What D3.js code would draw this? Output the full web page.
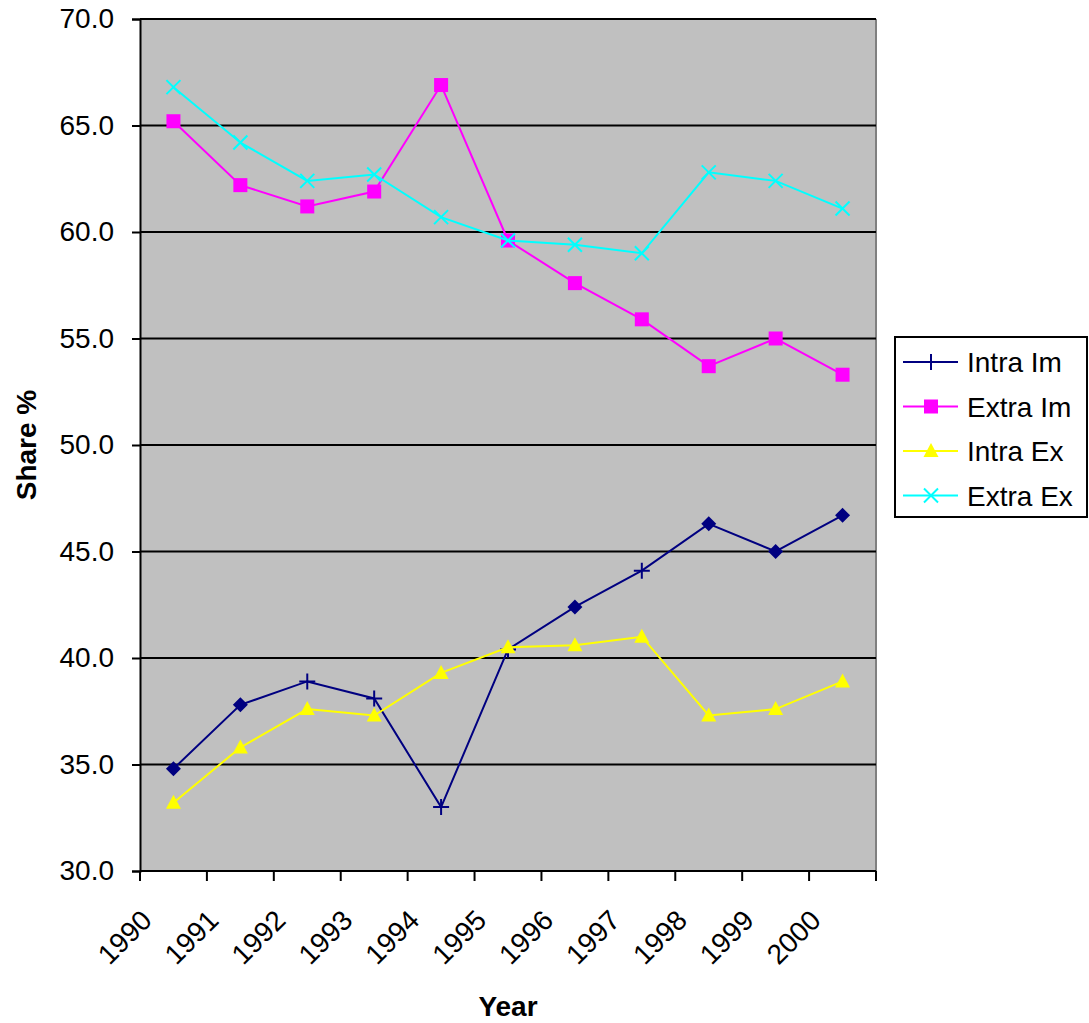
<!DOCTYPE html>
<html>
<head>
<meta charset="utf-8">
<script src="https://cdn.jsdelivr.net/npm/d3@7"></script>
<style>
  html, body { margin: 0; padding: 0; background: #fff; }
  svg { display: block; font-family: Arial, "Liberation Sans", sans-serif; }
</style>
</head>
<body>
<svg id="chart" width="1089" height="1023"></svg>
<script>
// Trade shares by year (%)
const years = ["1990","1991","1992","1993","1994","1995","1996","1997","1998","1999","2000"];
const intraIm = [34.8, 37.8, 38.9, 38.1, 33.0, 40.4, 42.4, 44.1, 46.3, 45.0, 46.7];
const extraIm = [65.2, 62.2, 61.2, 61.9, 66.9, 59.6, 57.6, 55.9, 53.7, 55.0, 53.3];
const intraEx = [33.2, 35.8, 37.6, 37.3, 39.3, 40.5, 40.6, 41.0, 37.3, 37.6, 38.9];
const extraEx = [66.8, 64.2, 62.4, 62.7, 60.7, 59.6, 59.4, 59.0, 62.8, 62.4, 61.1];
const yTicks = [30, 35, 40, 45, 50, 55, 60, 65, 70];
const seriesNames = ["Intra Im", "Extra Im", "Intra Ex", "Extra Ex"];
// marker used at each Intra Im point
const intraImMarks = ["diamond","diamond","plus","plus","plus","plus","diamond","plus","diamond","diamond","diamond"];

const svg = d3.select("#chart");
const plot = { left: 140, right: 876, top: 19, bottom: 871 };

const x = d3.scaleBand().domain(years).range([plot.left, plot.right]);
const cx = d => x(d) + x.bandwidth() / 2;
const y = d3.scaleLinear().domain([30, 70]).range([plot.bottom, plot.top]);

// plot background
svg.append("rect")
  .attr("x", plot.left).attr("y", plot.top)
  .attr("width", plot.right - plot.left).attr("height", plot.bottom - plot.top)
  .attr("fill", "#C0C0C0");
svg.append("line")
  .attr("x1", plot.right).attr("x2", plot.right)
  .attr("y1", plot.top).attr("y2", plot.bottom)
  .attr("stroke", "#808080").attr("stroke-width", 2);

// horizontal gridlines
svg.append("g").selectAll("line").data(yTicks.filter(t => t > 30)).join("line")
  .attr("x1", plot.left).attr("x2", plot.right)
  .attr("y1", d => y(d)).attr("y2", d => y(d))
  .attr("stroke", "#000").attr("stroke-width", 2);

// y axis
const yAxis = svg.append("g")
  .attr("transform", `translate(${plot.left},0)`)
  .call(d3.axisLeft(y).tickValues(yTicks).tickFormat(d3.format(".1f")).tickSize(8).tickPadding(18));
yAxis.select(".domain").attr("stroke", "#000").attr("stroke-width", 2);
yAxis.selectAll(".tick line").attr("stroke", "#000").attr("stroke-width", 2);
yAxis.selectAll(".tick text").attr("font-size", 28).attr("fill", "#000")
  .attr("font-family", "Arial, 'Liberation Sans', sans-serif");

// x axis line and ticks at category boundaries
svg.append("line")
  .attr("x1", plot.left).attr("x2", plot.right)
  .attr("y1", plot.bottom).attr("y2", plot.bottom)
  .attr("stroke", "#000").attr("stroke-width", 2);
const boundaries = years.map(d => x(d)).concat([x.range()[1]]);
svg.append("g").selectAll("line").data(boundaries).join("line")
  .attr("x1", d => d).attr("x2", d => d)
  .attr("y1", plot.bottom).attr("y2", plot.bottom + 10)
  .attr("stroke", "#000").attr("stroke-width", 2);

// rotated year labels
svg.append("g").selectAll("text").data(years).join("text")
  .attr("transform", d => `translate(${cx(d) - 20},922) rotate(-45)`)
  .attr("text-anchor", "end")
  .attr("font-size", 28)
  .attr("fill", "#000")
  .text(d => d);

// axis titles
svg.append("text")
  .attr("x", (plot.left + plot.right) / 2).attr("y", 1016)
  .attr("text-anchor", "middle").attr("font-size", 28).attr("font-weight", "bold")
  .text("Year");
svg.append("text")
  .attr("transform", `translate(36,${(plot.top + plot.bottom) / 2}) rotate(-90)`)
  .attr("text-anchor", "middle").attr("font-size", 28).attr("font-weight", "bold")
  .text("Share %");

// marker drawing
function drawMarker(g, type, px, py, color) {
  if (type === "diamond") {
    g.append("path").attr("d", `M${px},${py - 7.5}L${px + 7.5},${py}L${px},${py + 7.5}L${px - 7.5},${py}Z`)
      .attr("fill", color);
  } else if (type === "plus") {
    g.append("path").attr("d", `M${px},${py - 8}V${py + 8}M${px - 8},${py}H${px + 8}`)
      .attr("stroke", color).attr("stroke-width", 2).attr("fill", "none");
  } else if (type === "square") {
    g.append("rect").attr("x", px - 7).attr("y", py - 7).attr("width", 14).attr("height", 14)
      .attr("fill", color);
  } else if (type === "triangle") {
    g.append("path").attr("d", `M${px},${py - 8}L${px + 7.5},${py + 6}L${px - 7.5},${py + 6}Z`)
      .attr("fill", color);
  } else if (type === "x") {
    g.append("path").attr("d", `M${px - 7},${py - 7}L${px + 7},${py + 7}M${px - 7},${py + 7}L${px + 7},${py - 7}`)
      .attr("stroke", color).attr("stroke-width", 2).attr("fill", "none");
  }
}

const series = [
  { name: seriesNames[0], values: intraIm, color: "#000080", marks: intraImMarks, legendMark: "plus" },
  { name: seriesNames[1], values: extraIm, color: "#FF00FF", marks: years.map(() => "square"), legendMark: "square" },
  { name: seriesNames[2], values: intraEx, color: "#FFFF00", marks: years.map(() => "triangle"), legendMark: "triangle" },
  { name: seriesNames[3], values: extraEx, color: "#00FFFF", marks: years.map(() => "x"), legendMark: "x" }
];

const line = d3.line().x((v, i) => cx(years[i])).y(v => y(v));

series.forEach(s => {
  const g = svg.append("g");
  g.append("path").attr("d", line(s.values))
    .attr("fill", "none").attr("stroke", s.color).attr("stroke-width", 2);
  s.values.forEach((v, i) => drawMarker(g, s.marks[i], cx(years[i]), y(v), s.color));
});

// legend
const lg = svg.append("g");
lg.append("rect").attr("x", 895).attr("y", 337).attr("width", 192).attr("height", 180)
  .attr("fill", "#fff").attr("stroke", "#000").attr("stroke-width", 2);
series.forEach((s, i) => {
  const ly = 362 + i * 44.5;
  lg.append("line").attr("x1", 903).attr("x2", 958).attr("y1", ly).attr("y2", ly)
    .attr("stroke", s.color).attr("stroke-width", 2);
  drawMarker(lg, s.legendMark, 931, ly, s.color);
  lg.append("text").attr("x", 967).attr("y", ly + 10).attr("font-size", 28).attr("fill", "#000")
    .text(s.name);
});
</script>
</body>
</html>
